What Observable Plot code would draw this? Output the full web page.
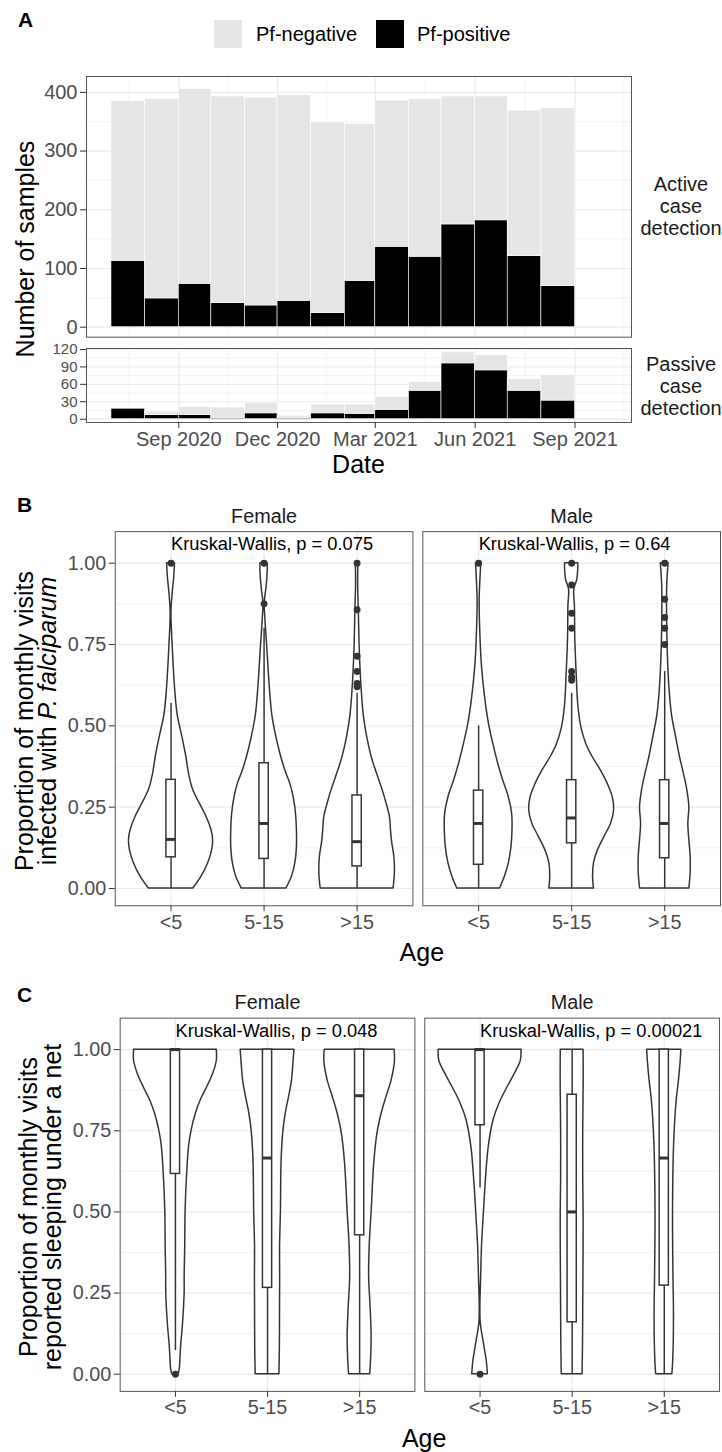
<!DOCTYPE html>
<html>
<head>
<meta charset="utf-8">
<script src="https://cdn.jsdelivr.net/npm/d3@7"></script>
<script src="https://cdn.jsdelivr.net/npm/@observablehq/plot@0.6"></script>
<style>
html,body{margin:0;padding:0;background:#fff;}
#fig{position:relative;width:722px;height:1452px;overflow:hidden;font-family:"Liberation Sans",Arial,Helvetica,sans-serif;color:#000;background:#fff;}
#fig svg{position:absolute;left:0;}
.t{position:absolute;white-space:nowrap;line-height:1;}
.rot{position:absolute;white-space:nowrap;text-align:center;transform:translate(-50%,-50%) rotate(-90deg);}
</style>
</head>
<body>
<div id="fig"></div>
<script>
// ---------------- DATA ----------------
// Panel A: monthly sample counts
const months = ["2020-07","2020-08","2020-09","2020-10","2020-11","2020-12","2021-01","2021-02","2021-03","2021-04","2021-05","2021-06","2021-07","2021-08"];
const activePositive = [113,49,74,41,37,45,24,79,137,120,175,182,121,70];
const activeNegative = [272,340,332,352,354,350,325,267,249,269,218,211,248,303];
const passivePositive = [18,7,7,2,10,2,10,9,16,49,96,84,49,32];
const passiveNegative = [0,6,14,18,18,4,15,16,22,15,19,26,20,44];
const statusLabels = ["Pf-negative","Pf-positive"];
const detectionLabels = ["Active\ncase\ndetection","Passive\ncase\ndetection"];
const dateTicks = ["2020-09-01","2020-12-01","2021-03-01","2021-06-01","2021-09-01"];
const dateMinorTicks = ["2020-07-17","2020-10-16","2021-01-15","2021-04-16","2021-07-17","2021-10-16"];
const dateDomain = ["2020-06-08","2021-10-23"];
const activeTicks = [0,100,200,300,400];
const activeMinorTicks = [50,150,250,350];
const passiveTicks = [0,30,60,90,120];
const passiveMinorTicks = [15,45,75,105];

// Panels B & C: categories
const sexLabels = ["Female","Male"];
const ageLabels = ["<5","5-15",">15"];
const propTicks = [0,0.25,0.5,0.75,1];
const propMinorTicks = [0.125,0.375,0.625,0.875];

// Panel B violins: [proportion, half-width in category units]
const vB_F_u5  = [[0,0.240],[0.037,0.329],[0.078,0.399],[0.118,0.442],[0.149,0.452],[0.179,0.435],[0.22,0.382],[0.26,0.311],[0.301,0.24],[0.351,0.194],[0.402,0.166],[0.463,0.124],[0.534,0.071],[0.605,0.046],[0.686,0.028],[0.767,0.014],[0.848,0.004],[0.909,0.018],[0.96,0.035],[1,0.042]];
const vB_F_515 = [[0,0.24],[0.037,0.30],[0.078,0.336],[0.128,0.353],[0.179,0.353],[0.23,0.343],[0.28,0.318],[0.321,0.283],[0.361,0.23],[0.412,0.177],[0.463,0.134],[0.534,0.088],[0.625,0.06],[0.737,0.035],[0.828,0.014],[0.878,0.007],[0.929,0.028],[0.975,0.039],[1,0.039]];
const vB_F_o15 = [[0,0.392],[0.048,0.406],[0.098,0.40],[0.139,0.378],[0.179,0.364],[0.22,0.353],[0.26,0.318],[0.301,0.276],[0.351,0.216],[0.402,0.159],[0.463,0.11],[0.534,0.071],[0.625,0.046],[0.737,0.028],[0.858,0.018],[0.939,0.011],[1,0.014]];
const vB_M_u5  = [[0,0.23],[0.037,0.283],[0.078,0.325],[0.128,0.353],[0.179,0.364],[0.23,0.36],[0.28,0.325],[0.331,0.265],[0.382,0.212],[0.443,0.159],[0.503,0.113],[0.584,0.071],[0.686,0.035],[0.787,0.018],[0.888,0.011],[0.959,0.021],[1,0.028]];
const vB_M_515 = [[0,0.24],[0.037,0.23],[0.078,0.24],[0.118,0.283],[0.159,0.353],[0.2,0.424],[0.24,0.456],[0.28,0.442],[0.321,0.389],[0.361,0.318],[0.402,0.23],[0.443,0.159],[0.493,0.106],[0.564,0.071],[0.666,0.053],[0.767,0.039],[0.868,0.035],[0.919,0.028],[0.949,0.06],[0.985,0.071],[1,0.071]];
const vB_M_o15 = [[0,0.265],[0.048,0.279],[0.098,0.279],[0.149,0.265],[0.2,0.254],[0.25,0.265],[0.301,0.244],[0.351,0.208],[0.402,0.166],[0.463,0.124],[0.534,0.078],[0.625,0.049],[0.737,0.032],[0.858,0.025],[0.939,0.028],[1,0.042]];
// Panel B boxplots (order: F<5, F5-15, F>15, M<5, M5-15, M>15)
const bQ1  = [0.096,0.091,0.068,0.073,0.139,0.093];
const bMed = [0.151,0.2,0.144,0.2,0.217,0.2];
const bQ3  = [0.334,0.385,0.286,0.301,0.333,0.333];
const bLo  = [0,0,0,0,0,0];
const bHi  = [0.569,0.8,0.6,0.5,0.6,0.667];
const bOutliers = [[1],[0.875,1],[0.62,0.63,0.667,0.714,0.857,1],[1],[0.64,0.65,0.667,0.8,0.846,0.933,1],[0.75,0.8,0.833,0.889,1]];
const bTests = ["Kruskal-Wallis, p = 0.075","Kruskal-Wallis, p = 0.64"];

// Panel C violins
const vC_F_u5  = [[0,0.035],[0.017,0.048],[0.04,0.053],[0.088,0.062],[0.15,0.081],[0.251,0.1],[0.3,0.1],[0.393,0.106],[0.499,0.11],[0.601,0.124],[0.702,0.148],[0.753,0.177],[0.804,0.223],[0.845,0.276],[0.885,0.346],[0.926,0.41],[0.965,0.449],[1,0.449]];
const vC_F_515 = [[0,0.129],[0.088,0.134],[0.241,0.136],[0.29,0.137],[0.393,0.136],[0.499,0.145],[0.652,0.152],[0.743,0.17],[0.804,0.198],[0.853,0.233],[0.904,0.265],[0.965,0.283],[1,0.292]];
const vC_F_o15 = [[0,0.115],[0.05,0.125],[0.12,0.13],[0.2,0.12],[0.3,0.103],[0.4,0.11],[0.499,0.13],[0.652,0.159],[0.743,0.194],[0.804,0.24],[0.853,0.29],[0.904,0.346],[0.96,0.382],[1,0.38]];
const vC_M_u5  = [[0,0.085],[0.037,0.074],[0.088,0.046],[0.159,0.007],[0.22,0.004],[0.29,0.011],[0.393,0.021],[0.499,0.042],[0.601,0.064],[0.702,0.095],[0.784,0.148],[0.835,0.212],[0.885,0.30],[0.926,0.378],[0.965,0.442],[1,0.45]];
const vC_M_515 = [[0,0.113],[0.1,0.118],[0.2,0.12],[0.3,0.122],[0.4,0.124],[0.5,0.124],[0.6,0.12],[0.75,0.12],[0.9,0.125],[1,0.124]];
const vC_M_o15 = [[0,0.088],[0.03,0.095],[0.1,0.103],[0.2,0.105],[0.3,0.1],[0.5,0.095],[0.702,0.106],[0.804,0.124],[0.853,0.138],[0.904,0.159],[0.96,0.177],[1,0.186]];
// Panel C boxplots
const cQ1  = [0.617,0.266,0.428,0.767,0.16,0.273];
const cMed = [1,0.666,0.858,1,0.5,0.666];
const cQ3  = [1,1,1,1,0.861,1];
const cLo  = [0.073,0,0,0.574,0,0];
const cHi  = [1,1,1,1,1,1];
const cOutliers = [[0],[],[],[0],[],[]];
const cTests = ["Kruskal-Wallis, p = 0.048","Kruskal-Wallis, p = 0.00021"];

// ---------------- STYLE ----------------
const FONT = "'Liberation Sans', Arial, Helvetica, sans-serif";
const statusFill = ["#E5E5E5","#000000"];
const GRID = "#EBEBEB";
const FRAME = "#555555";
const TICK_TEXT = "#4D4D4D";
const TICK = "#333333";
const LINE = "#333333";
const TICK_FS = 20;
const baseStyle = {fontFamily: FONT, fontSize: "20px", background: "transparent", overflow: "visible", color: "#000"};

// ---------------- HELPERS ----------------
const fig = document.getElementById("fig");
const day = s => new Date(s + "T00:00:00Z");
function put(node, top) { node.style.top = top + "px"; node.style.left = "0px"; fig.appendChild(node); }
function text(str, x, y, {size = 18.5, weight = "normal", color = "#000", anchor = "middle", lh = 1} = {}) {
  const d = document.createElement("div");
  d.className = "t";
  d.style.fontSize = size + "px";
  d.style.fontWeight = weight;
  d.style.color = color;
  d.style.lineHeight = lh;
  d.style.left = x + "px";
  d.style.top = y + "px";
  d.style.textAlign = "center";
  d.style.transform = anchor === "middle" ? "translate(-50%,-50%)" : "translate(0,-50%)";
  d.innerHTML = str;
  fig.appendChild(d);
  return d;
}
function rotText(html, x, y, size, lh) {
  const d = document.createElement("div");
  d.className = "rot";
  d.style.left = x + "px";
  d.style.top = y + "px";
  d.style.fontSize = size + "px";
  d.style.lineHeight = lh + "px";
  d.innerHTML = html;
  fig.appendChild(d);
}
function stackRows(pos, neg) {
  return months.flatMap((m, i) => {
    const s = day(m + "-01");
    const e = new Date(Date.UTC(s.getUTCFullYear(), s.getUTCMonth() + 1, 1));
    return [
      {x1: s, x2: e, y1: 0, y2: pos[i], status: statusLabels[1]},
      {x1: s, x2: e, y1: pos[i], y2: pos[i] + neg[i], status: statusLabels[0]}
    ];
  });
}
function violinRows(list) {
  const rows = [];
  list.forEach((arr, g) => {
    const sex = sexLabels[Math.floor(g / 3)], pos = (g % 3) + 1;
    arr.forEach(([v, hw]) => rows.push({group: g, sex, pos, v, hw}));
  });
  return rows;
}
function boxRows(q1, med, q3, lo, hi) {
  return q1.map((_, g) => ({group: g, sex: sexLabels[Math.floor(g / 3)], pos: (g % 3) + 1, q1: q1[g], med: med[g], q3: q3[g], lo: lo[g], hi: hi[g]}));
}
function outlierRows(out) {
  return out.flatMap((vals, g) => vals.map(v => ({sex: sexLabels[Math.floor(g / 3)], pos: (g % 3) + 1, v})));
}

// ---------------- PANEL A ----------------
const xDate = {type: "utc", domain: dateDomain.map(day)};
function gridMarksA(major, minor) {
  return [
    Plot.ruleY(minor, {stroke: GRID, strokeWidth: 0.6}),
    Plot.ruleY(major, {stroke: GRID, strokeWidth: 1.2}),
    Plot.ruleX(dateMinorTicks.map(day), {stroke: GRID, strokeWidth: 0.6}),
    Plot.ruleX(dateTicks.map(day), {stroke: GRID, strokeWidth: 1.2})
  ];
}
const plotActive = Plot.plot({
  width: 722, height: 278, marginLeft: 86, marginRight: 91, marginTop: 16, marginBottom: 1.3,
  x: {...xDate, axis: null},
  y: {domain: [-17, 427], axis: null},
  color: {domain: statusLabels, range: statusFill},
  style: baseStyle,
  marks: [
    ...gridMarksA(activeTicks, activeMinorTicks),
    Plot.rect(stackRows(activePositive, activeNegative), {x1: "x1", x2: "x2", y1: "y1", y2: "y2", fill: "status", stroke: "#fff", strokeWidth: 0.6}),
    Plot.frame({stroke: FRAME, strokeWidth: 1}),
    Plot.axisY({ticks: activeTicks, tickSize: 6, tickPadding: 3, fontSize: TICK_FS, fill: TICK_TEXT, stroke: TICK, label: null})
  ]
});
put(plotActive, 60);

const plotPassive = Plot.plot({
  width: 722, height: 112, marginLeft: 86, marginRight: 91, marginTop: 8, marginBottom: 30,
  x: {...xDate, axis: null},
  y: {domain: [-5.7, 121.7], axis: null},
  color: {domain: statusLabels, range: statusFill},
  style: baseStyle,
  marks: [
    ...gridMarksA(passiveTicks, passiveMinorTicks),
    Plot.rect(stackRows(passivePositive, passiveNegative), {x1: "x1", x2: "x2", y1: "y1", y2: "y2", fill: "status", stroke: "#fff", strokeWidth: 0.6}),
    Plot.frame({stroke: FRAME, strokeWidth: 1}),
    Plot.axisY({ticks: passiveTicks, tickSize: 6, tickPadding: 3, fontSize: 15, fill: TICK_TEXT, stroke: TICK, label: null}),
    Plot.axisX({ticks: dateTicks.map(day), tickFormat: d3.utcFormat("%b %Y"), tickSize: 6, tickPadding: 3, fontSize: TICK_FS, fill: TICK_TEXT, stroke: TICK, label: null})
  ]
});
put(plotPassive, 340);

// Panel A texts
text("A", 18, 19, {size: 21, weight: "bold", anchor: "start"});
const sw1 = document.createElement("div");
Object.assign(sw1.style, {position: "absolute", left: "214px", top: "20px", width: "28px", height: "28px", background: statusFill[0]});
fig.appendChild(sw1);
const sw2 = document.createElement("div");
Object.assign(sw2.style, {position: "absolute", left: "376px", top: "20px", width: "28px", height: "28px", background: statusFill[1]});
fig.appendChild(sw2);
text(statusLabels[0], 256, 34, {size: 20, anchor: "start"});
text(statusLabels[1], 417, 34, {size: 20, anchor: "start"});
text(detectionLabels[0].replace(/\n/g, "<br>"), 681, 206, {size: 20, color: "#1A1A1A", lh: 1.1});
text(detectionLabels[1].replace(/\n/g, "<br>"), 681, 386, {size: 20, color: "#1A1A1A", lh: 1.1});
rotText("Number of samples", 25, 249, 25, 25);
text("Date", 358.5, 464, {size: 25});

// ---------------- PANELS B & C ----------------
function violinPanel({violins, q1, med, q3, lo, hi, outliers, tests, width, height, marginLeft, marginRight, marginTop, marginBottom, paddingInner}) {
  const vr = violinRows(violins);
  const br = boxRows(q1, med, q3, lo, hi);
  const orow = outlierRows(outliers);
  const trow = sexLabels.map((s, i) => ({sex: s, label: tests[i]}));
  return Plot.plot({
    width, height, marginLeft, marginRight, marginTop, marginBottom,
    fx: {domain: sexLabels, paddingInner, paddingOuter: 0, label: null},
    x: {domain: [0.4, 3.6], axis: null},
    y: {domain: [-0.053, 1.097], axis: null},
    style: baseStyle,
    marks: [
      Plot.ruleY(propMinorTicks, {stroke: GRID, strokeWidth: 0.6}),
      Plot.ruleY(propTicks, {stroke: GRID, strokeWidth: 1.2}),
      Plot.ruleX([1, 2, 3], {stroke: GRID, strokeWidth: 1.2}),
      Plot.areaX(vr, {fx: "sex", z: "group", y: "v", x1: d => d.pos - d.hw, x2: d => d.pos + d.hw, fill: "#fff", stroke: LINE, strokeWidth: 1.5, curve: "catmull-rom"}),
      Plot.ruleX(br, {fx: "sex", x: "pos", y1: "lo", y2: "q1", stroke: LINE, strokeWidth: 1.5}),
      Plot.ruleX(br, {fx: "sex", x: "pos", y1: "q3", y2: "hi", stroke: LINE, strokeWidth: 1.5}),
      Plot.rect(br, {fx: "sex", x1: d => d.pos - 0.05, x2: d => d.pos + 0.05, y1: "q1", y2: "q3", fill: "#fff", stroke: LINE, strokeWidth: 1.5}),
      Plot.ruleY(br, {fx: "sex", y: "med", x1: d => d.pos - 0.05, x2: d => d.pos + 0.05, stroke: LINE, strokeWidth: 3}),
      Plot.dot(orow, {fx: "sex", x: "pos", y: "v", r: 3.5, fill: LINE, stroke: null}),
      Plot.text(trow, {fx: "sex", x: () => 1, y: () => 1.057, text: "label", textAnchor: "start", lineAnchor: "middle", fontSize: 18.5, fill: "#000"}),
      Plot.frame({stroke: FRAME, strokeWidth: 1}),
      Plot.axisY({ticks: propTicks, tickFormat: d3.format(".2f"), tickSize: 6, tickPadding: 3, fontSize: TICK_FS, fill: TICK_TEXT, stroke: TICK, label: null}),
      Plot.axisX({ticks: [1, 2, 3], tickFormat: i => ageLabels[i - 1], tickSize: 6, tickPadding: 3, fontSize: TICK_FS, fill: TICK_TEXT, stroke: TICK, label: null}),
      Plot.axisFx({anchor: "top", label: null, tickSize: 0, tickPadding: 9, fontSize: 20, fill: "#1A1A1A"})
    ]
  });
}

const plotB = violinPanel({
  violins: [vB_F_u5, vB_F_515, vB_F_o15, vB_M_u5, vB_M_515, vB_M_o15],
  q1: bQ1, med: bMed, q3: bQ3, lo: bLo, hi: bHi, outliers: bOutliers, tests: bTests,
  width: 730, height: 468, marginLeft: 115, marginRight: 1.5, marginTop: 51.7, marginBottom: 38, paddingInner: 0.0318
});
put(plotB, 480);
text("B", 17, 504, {size: 21, weight: "bold", anchor: "start"});
rotText("Proportion of monthly visits<br>infected with <i>P. falciparum</i>", 36, 721, 25, 23);
text("Age", 421.8, 952, {size: 25});

const plotC = violinPanel({
  violins: [vC_F_u5, vC_F_515, vC_F_o15, vC_M_u5, vC_M_515, vC_M_o15],
  q1: cQ1, med: cMed, q3: cQ3, lo: cLo, hi: cHi, outliers: cOutliers, tests: cTests,
  width: 730, height: 473.7, marginLeft: 120, marginRight: 1.8, marginTop: 58.3, marginBottom: 38, paddingInner: 0.0317
});
put(plotC, 960);
text("C", 17, 994, {size: 21, weight: "bold", anchor: "start"});
rotText("Proportion of monthly visits<br>reported sleeping under a net", 40, 1207, 25, 24);
text("Age", 424.2, 1438, {size: 25});
</script>
</body>
</html>
